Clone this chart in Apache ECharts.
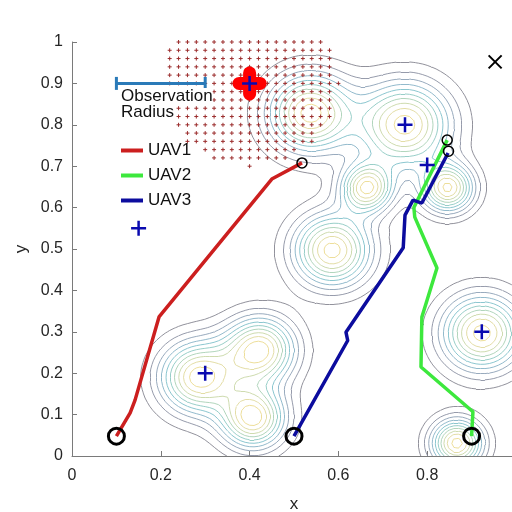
<!DOCTYPE html>
<html>
<head>
<meta charset="utf-8">
<script src="https://cdn.jsdelivr.net/npm/echarts@6/dist/echarts.min.js"></script>
<style>
html, body { margin: 0; padding: 0; background: #fff; }
#chart { width: 512px; height: 512px; }
</style>
</head>
<body>
<div id="chart"></div>
<script>
// hotspots of the probability map (centre, spread, height)
const peakX = [0.285, 0.423, 0.408, 0.586, 0.923, 0.867, 0.536, 0.750, 0.664, 0.847];
const peakY = [0.190, 0.256, 0.092, 0.497, 0.297, 0.031, 0.828, 0.800, 0.647, 0.647];
const peakSpread = [0.060, 0.055, 0.050, 0.060, 0.062, 0.040, 0.065, 0.070, 0.040, 0.040];
const peakHeight = [1.05, 1.05, 1.05, 1.05, 1.05, 1.05, 1.05, 1.05, 1.0, 1.0];

const contourLevels = [0.1, 0.2, 0.3, 0.4, 0.5, 0.6, 0.7, 0.8, 0.9, 1.0];
const levelColors = ['#858590', '#8a90a2', '#8ca0b6', '#86b2c6', '#7ebfca', '#8cc8c2',
                     '#a8d0b4', '#c8d7a6', '#e0d99c', '#ebda8e'];

// UAV tracks
const uav1 = [[0.1, 0.048], [0.131, 0.104], [0.142, 0.135], [0.196, 0.336], [0.45, 0.669], [0.518, 0.708]];
const uav2 = [[0.9, 0.048], [0.903, 0.107], [0.786, 0.215], [0.788, 0.336], [0.822, 0.454],
              [0.772, 0.577], [0.77, 0.6], [0.845, 0.763]];
const uav3 = [[0.5, 0.048], [0.621, 0.279], [0.617, 0.299], [0.746, 0.503], [0.75, 0.582],
              [0.768, 0.618], [0.788, 0.611], [0.847, 0.732]];
const startPoints = [[0.1, 0.048], [0.5, 0.048], [0.9, 0.048]];
const endPoints = [[0.518, 0.708], [0.845, 0.763], [0.848, 0.736]];

// targets
const targets = [[0.4, 0.9], [0.75, 0.8], [0.8, 0.703], [0.15, 0.55], [0.3, 0.2], [0.923, 0.3]];
const crossMark = [[0.953, 0.952]];

// observed area of the UAV at (0.4, 0.9)
const obsCenter = [0.4, 0.9];
const obsRadius = 0.2;
const obsStep = 0.02;
const radiusBar = [[0.1, 0.9], [0.3, 0.9]];

// ---- field + contours ----
function field(x, y) {
  let s = 0;
  for (let k = 0; k < peakX.length; k++) {
    const dx = x - peakX[k], dy = y - peakY[k];
    s += peakHeight[k] * Math.exp(-(dx * dx + dy * dy) / (2 * peakSpread[k] * peakSpread[k]));
  }
  return s;
}

const STEP = 0.01;
const N = Math.round(1 / STEP) + 1;
const F = [];
for (let j = 0; j < N; j++) {
  const row = [];
  for (let i = 0; i < N; i++) row.push(field(i * STEP, j * STEP));
  F.push(row);
}

const CASES = {
  1: [[3, 0]], 2: [[0, 1]], 3: [[3, 1]], 4: [[1, 2]], 6: [[0, 2]], 7: [[3, 2]],
  8: [[2, 3]], 9: [[0, 2]], 11: [[1, 2]], 12: [[3, 1]], 13: [[0, 1]], 14: [[3, 0]]
};

function contourSegments(level) {
  const segs = [];
  for (let j = 0; j < N - 1; j++) {
    for (let i = 0; i < N - 1; i++) {
      const x0 = i * STEP, x1 = x0 + STEP, y0 = j * STEP, y1 = y0 + STEP;
      const v = [F[j][i], F[j][i + 1], F[j + 1][i + 1], F[j + 1][i]];
      const c = [[x0, y0], [x1, y0], [x1, y1], [x0, y1]];
      let idx = 0;
      for (let k = 0; k < 4; k++) if (v[k] > level) idx |= 1 << k;
      if (idx === 0 || idx === 15) continue;
      const edgePt = e => {
        const a = e, b = (e + 1) % 4;
        const t = (level - v[a]) / (v[b] - v[a]);
        return [c[a][0] + t * (c[b][0] - c[a][0]), c[a][1] + t * (c[b][1] - c[a][1])];
      };
      let pairs = CASES[idx];
      if (idx === 5 || idx === 10) {
        const mid = (v[0] + v[1] + v[2] + v[3]) / 4;
        const above = mid > level;
        if (idx === 5) pairs = above ? [[0, 1], [2, 3]] : [[3, 0], [1, 2]];
        else pairs = above ? [[3, 0], [1, 2]] : [[0, 1], [2, 3]];
      }
      pairs.forEach(p => segs.push({ coords: [edgePt(p[0]), edgePt(p[1])] }));
    }
  }
  return segs;
}

const contourSeries = contourLevels.map((lv, k) => ({
  type: 'lines',
  coordinateSystem: 'cartesian2d',
  polyline: false,
  silent: true,
  z: 1,
  lineStyle: { color: levelColors[k], width: 0.9, opacity: 1 },
  data: contourSegments(lv)
}));

// grid of observed cells (strictly inside the radius)
const obsPoints = [];
for (let j = 0; j <= 50; j++) {
  for (let i = 0; i <= 50; i++) {
    const x = i * obsStep, y = j * obsStep;
    if (Math.sqrt((x - obsCenter[0]) ** 2 + (y - obsCenter[1]) ** 2) < obsRadius) obsPoints.push([x, y]);
  }
}

const PLUS = 'path://M5,0L5,10M0,5L10,5';
const CROSS = 'path://M0,0L10,10M10,0L0,10';
const FONT = 'Liberation Sans, Arial, sans-serif';

const chart = echarts.init(document.getElementById('chart'));
chart.setOption({
  animation: false,
  backgroundColor: '#fff',
  grid: { left: 72, top: 42, width: 444, height: 414, outerBoundsMode: 'none', containLabel: false },
  legend: {
    data: ['UAV1', 'UAV2', 'UAV3'],
    orient: 'vertical',
    left: 116,
    top: 137,
    icon: 'rect',
    itemWidth: 22,
    itemHeight: 4,
    itemGap: 8,
    textStyle: { fontSize: 17, fontFamily: FONT, color: '#111', lineHeight: 17 }
  },
  xAxis: {
    type: 'value', min: 0, max: 1, interval: 0.2,
    name: 'x', nameLocation: 'middle', nameGap: 40,
    nameTextStyle: { fontSize: 17, fontFamily: FONT, color: '#262626' },
    axisLine: { lineStyle: { color: '#7a7a7a', width: 1 } },
    axisTick: { inside: true, length: 5, lineStyle: { color: '#7a7a7a' } },
    axisLabel: { fontSize: 16, fontFamily: FONT, color: '#262626', margin: 12 },
    splitLine: { show: false }
  },
  yAxis: {
    type: 'value', min: 0, max: 1, interval: 0.1,
    name: 'y', nameLocation: 'middle', nameGap: 40,
    nameTextStyle: { fontSize: 17, fontFamily: FONT, color: '#262626' },
    axisLine: { show: true, lineStyle: { color: '#7a7a7a', width: 1 } },
    axisTick: { show: true, inside: true, length: 5, lineStyle: { color: '#7a7a7a' } },
    axisLabel: { fontSize: 16, fontFamily: FONT, color: '#262626', margin: 9 },
    splitLine: { show: false }
  },
  graphic: [
    { type: 'text', left: 121, top: 88, z: 100,
      style: { text: 'Observation', fontSize: 17, fontFamily: FONT, fill: '#111', backgroundColor: '#fff' } },
    { type: 'text', left: 121, top: 104, z: 100,
      style: { text: 'Radius', fontSize: 17, fontFamily: FONT, fill: '#111', backgroundColor: '#fff' } }
  ],
  series: contourSeries.concat([
    {
      type: 'scatter', z: 3, silent: true,
      symbol: PLUS, symbolSize: 4,
      itemStyle: { color: 'transparent', borderColor: '#9b2d2d', borderWidth: 1, opacity: 1 },
      data: obsPoints
    },
    {
      type: 'scatter', z: 4, silent: true,
      symbol: 'path://M0,10L20,10M10,0L10,20', symbolSize: 21,
      itemStyle: { color: 'transparent', borderColor: '#ff0000', borderWidth: 13, borderCap: 'round', opacity: 1 },
      data: [obsCenter]
    },
    {
      type: 'line', z: 5, silent: true,
      data: radiusBar,
      symbol: 'rect', symbolSize: [3, 13], showSymbol: true,
      itemStyle: { color: '#2a7ab8', opacity: 1 },
      lineStyle: { color: '#2a7ab8', width: 3 }
    },
    {
      name: 'UAV1', type: 'line', z: 6, data: uav1, showSymbol: false,
      itemStyle: { color: '#cc1f1f' }, lineStyle: { color: '#cc1f1f', width: 3.5 }
    },
    {
      name: 'UAV2', type: 'line', z: 6, data: uav2, showSymbol: false,
      itemStyle: { color: '#3de83d' }, lineStyle: { color: '#3de83d', width: 3.5 }
    },
    {
      name: 'UAV3', type: 'line', z: 6, data: uav3, showSymbol: false,
      itemStyle: { color: '#0c0c9e' }, lineStyle: { color: '#0c0c9e', width: 3.5 }
    },
    {
      type: 'scatter', z: 7, silent: true,
      symbol: 'circle', symbolSize: 16,
      itemStyle: { color: 'transparent', borderColor: '#000', borderWidth: 3, opacity: 1 },
      data: startPoints
    },
    {
      type: 'scatter', z: 7, silent: true,
      symbol: 'circle', symbolSize: 10,
      itemStyle: { color: 'transparent', borderColor: '#000', borderWidth: 1.5, opacity: 1 },
      data: endPoints
    },
    {
      type: 'scatter', z: 8, silent: true,
      symbol: PLUS, symbolSize: 15,
      itemStyle: { color: 'transparent', borderColor: '#0a0ab0', borderWidth: 2.5, opacity: 1 },
      data: targets
    },
    {
      type: 'scatter', z: 8, silent: true,
      symbol: CROSS, symbolSize: 13,
      itemStyle: { color: 'transparent', borderColor: '#000', borderWidth: 2, opacity: 1 },
      data: crossMark
    }
  ])
});
</script>
</body>
</html>
